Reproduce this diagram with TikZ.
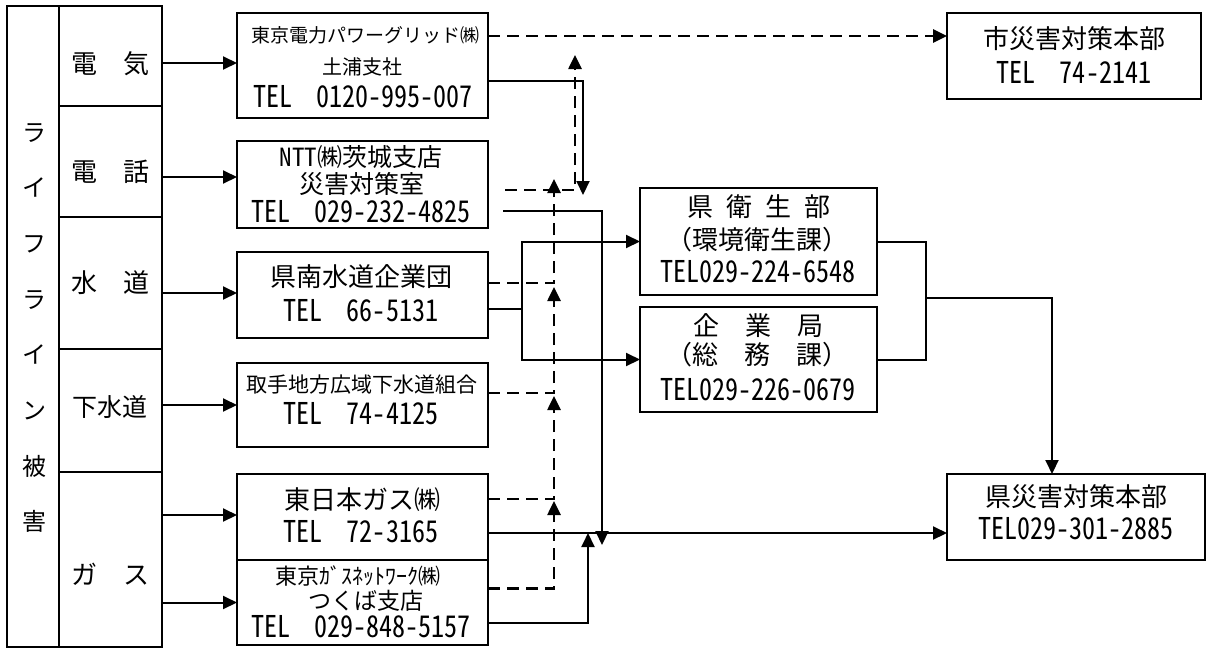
\documentclass[tikz,border=0pt]{standalone}
\usepackage{fontspec}
\setmainfont{Noto Sans CJK JP}
\newfontfamily\telfont{Noto Sans CJK JP}[RawFeature=+hwid, FakeStretch=0.87]
\newfontfamily\hwfont{Noto Sans CJK JP}[RawFeature=+hwid]
\usetikzlibrary{arrows.meta,calc}
\newcommand\jsz[1]{\fontsize{#1pt}{#1pt}\selectfont}
\newcommand\hsp{\hspace{0.5em}}
\newcommand\tsp{\hspace{24pt}}
\begin{document}
\begin{tikzpicture}[x=1pt,y=-1pt,
  bx/.style={draw, line width=2pt, inner sep=0pt, outer sep=0pt},
  tx/.style={inner sep=0pt, anchor=center},
  telt/.style={tx, font=\telfont\fontsize{30pt}{30pt}\selectfont},
  arr/.style={line width=2pt, -{Triangle[length=14pt,width=13pt]}},
  ln/.style={line width=2pt},
  dsh/.style={line width=2.6pt, dash pattern=on 12pt off 7pt}]
\fill[white] (0,0) rectangle (1206,648);
\useasboundingbox (0,0) rectangle (1206,648);

% left columns
\node[bx, minimum width=52pt, minimum height=641pt] (life) at (33,326.5) {};
\node[tx, font=\fontsize{24pt}{55.7pt}\selectfont, align=center] (lifetx) at (34,328) {ラ\\イ\\フ\\ラ\\イ\\ン\\被\\害};
\node[bx, minimum width=103pt, minimum height=100pt] (denki) at (110.5,56) {};
\node[bx, minimum width=103pt, minimum height=111pt] (denwa) at (110.5,161.5) {};
\node[bx, minimum width=103pt, minimum height=132pt] (suido) at (110.5,283) {};
\node[bx, minimum width=103pt, minimum height=123pt] (gesui) at (110.5,410.5) {};
\node[bx, minimum width=103pt, minimum height=175pt] (gas) at (110.5,559.5) {};
\node[tx, font=\jsz{26}] (tdenki) at (110,64) {電　気};
\node[tx, font=\jsz{26}] (tdenwa) at (110,172) {電　話};
\node[tx, font=\jsz{26}] (tsuido) at (110,283) {水　道};
\node[tx, font=\jsz{25}] (tgesui) at (110,407) {下水道};
\node[tx, font=\jsz{26}] (tgas) at (110,574) {ガ　ス};

% source boxes
\node[bx, minimum width=251pt, minimum height=105pt] (src1) at (362.5,65.5) {};
\node[bx, minimum width=251pt, minimum height=87pt] (src2) at (362.5,184.5) {};
\node[bx, minimum width=251pt, minimum height=86pt] (src3) at (362.5,295) {};
\node[bx, minimum width=251pt, minimum height=84pt] (src4) at (362.5,405) {};
\node[bx, minimum width=251pt, minimum height=86pt] (src5) at (362.5,517) {};
\node[bx, minimum width=251pt, minimum height=85pt] (src6) at (362.5,602.5) {};

\node[tx, font=\jsz{19}] (s1a) at (365,35) {東京電力パワーグリッド㈱};
\node[tx, font=\jsz{20}] (s1b) at (362,67) {土浦支社};
\node[telt] (s1c) at (363,97) {TEL\tsp 0120-995-007};
\node[tx, font=\jsz{25}] (s2a) at (361,157) {{\hwfont NTT}㈱茨城支店};
\node[tx, font=\jsz{25}] (s2b) at (362,184) {災害対策室};
\node[telt] (s2c) at (361,212) {TEL\tsp 029-232-4825};
\node[tx, font=\jsz{26}] (s3a) at (361,277) {県南水道企業団};
\node[telt] (s3b) at (361,311) {TEL\tsp 66-5131};
\node[tx, font=\jsz{21}] (s4a) at (362,385) {取手地方広域下水道組合};
\node[telt] (s4b) at (361,414) {TEL\tsp 74-4125};
\node[tx, font=\jsz{26}] (s5a) at (362,500) {東日本ガス㈱};
\node[telt] (s5b) at (361,532) {TEL\tsp 72-3165};
\node[tx, font=\jsz{22}] (s6a) at (358,576) {東京ｶﾞｽﾈｯﾄﾜｰｸ㈱};
\node[tx, font=\jsz{23}] (s6b) at (366,601) {つくば支店};
\node[telt] (s6c) at (361,626.5) {TEL\tsp 029-848-5157};

% middle boxes
\node[bx, minimum width=237pt, minimum height=107pt] (eisei) at (758.5,241.5) {};
\node[bx, minimum width=237pt, minimum height=105pt] (kigyo) at (758.5,359.5) {};
\node[tx, font=\jsz{26}] (e1) at (759,207) {県\hsp 衛\hsp 生\hsp 部};
\node[tx, font=\jsz{26}] (e2) at (757,240) {（環境衛生課）};
\node[telt] (e3) at (758,272) {TEL029-224-6548};
\node[tx, font=\jsz{26}] (k1) at (758,326) {企　業　局};
\node[tx, font=\jsz{26}] (k2) at (757,355) {（総　務　課）};
\node[telt] (k3) at (758,390) {TEL029-226-0679};

% right boxes
\node[bx, minimum width=254pt, minimum height=86pt] (shi) at (1074,56) {};
\node[tx, font=\jsz{26}] (sh1) at (1074,39) {市災害対策本部};
\node[telt] (sh2) at (1074,72) {TEL\tsp 74-2141};
\node[bx, minimum width=258pt, minimum height=86pt] (ken) at (1076,517) {};
\node[tx, font=\jsz{26}] (kn1) at (1076,497) {県災害対策本部};
\node[telt] (kn2) at (1076,529) {TEL029-301-2885};

% left arrows
\draw[arr] ($(denki.east |- src1.west)+(0,-2.5)$) -- ($(src1.west)+(0,-2.5)$);
\draw[arr] ($(denwa.east |- src2.west)+(0,-7.5)$) -- ($(src2.west)+(0,-7.5)$);
\draw[arr] ($(suido.east |- src3.west)+(0,-2)$) -- ($(src3.west)+(0,-2)$);
\draw[arr] (gesui.east |- src4.west) -- (src4.west);
\draw[arr] ($(gas.east |- src5.west)+(0,-2)$) -- ($(src5.west)+(0,-2)$);
\draw[arr] (gas.east |- src6.west) -- (src6.west);

% dashed network
\draw[arr,dsh] ($(src1.north east)+(0,23)$) -- ($(shi.north west)+(0,23)$);
\coordinate (dE) at (575,55);
\draw[arr,dsh] ($(src2.east)+(17,5.5)$) -| (dE);
\coordinate (dD) at (554,179);
\draw[arr,dsh] ($(src3.east)+(0,-12)$) -| (dD);
\coordinate (dC) at (554,287);
\draw[arr,dsh] ($(src4.east)+(0,-12)$) -| (dC);
\coordinate (dB) at (554,396);
\draw[arr,dsh] ($(src5.east)+(0,-18)$) -| (dB);
\coordinate (dA) at (554,501);
\draw[arr,dsh] ($(src6.east)+(0,-14)$) -| (dA);

% solid network
\coordinate (s1) at (583,195);
\draw[arr] ($(src1.east)+(0,15.5)$) -| (s1);
\coordinate (s2) at (602,545);
\draw[arr] ($(src2.east)+(15,26.5)$) -| (s2);
\coordinate (s6) at (588,533);
\draw[arr] ($(src6.east)+(0,20.5)$) -| (s6);
\draw[arr] ($(src5.east)+(0,16)$) -- ($(ken.west)+(0,16)$);
\coordinate (fk) at ($(src3.east)+(34,14)$);
\draw[ln] ($(src3.east)+(0,14)$) -- (fk);
\draw[arr] (fk) |- (eisei.west);
\draw[arr] (fk) |- (kigyo.west);
\coordinate (mg) at (926,298);
\draw[ln] (eisei.east) -| (mg);
\draw[ln] (kigyo.east) -| (mg);
\draw[arr] (mg) -| ($(ken.north)+(-24,0)$);
\end{tikzpicture}
\end{document}
